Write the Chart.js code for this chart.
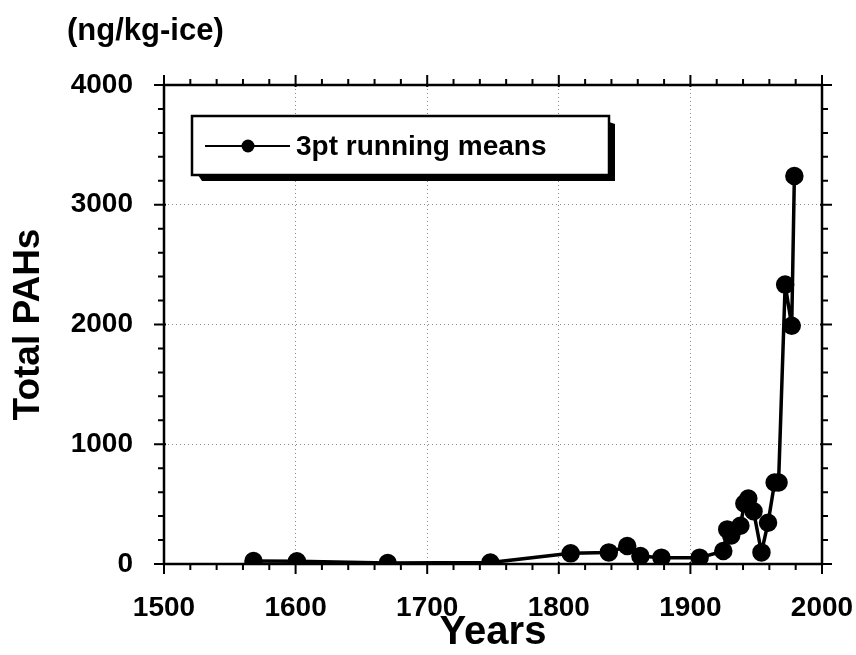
<!DOCTYPE html>
<html>
<head>
<meta charset="utf-8">
<script src="https://cdn.jsdelivr.net/npm/chart.js@4.4.1/dist/chart.umd.min.js"></script>
<style>
  html, body { margin: 0; padding: 0; background: #fff; }
  #wrap { width: 856px; height: 655px; position: relative; }
</style>
</head>
<body>
<div id="wrap"><canvas id="chartcontainer"></canvas></div>
<script>
// valeurs
var years = [1568, 1601, 1670, 1748, 1809, 1838, 1852, 1862, 1878, 1907, 1925, 1928,
             1931, 1938, 1941, 1944, 1948, 1954, 1959, 1964, 1967, 1972, 1977, 1979];
var pahs = [25, 22, 8, 12, 89, 97, 150, 67, 53, 53, 108, 289,
            239, 319, 505, 547, 441, 97, 344, 680, 680, 2333, 1990, 3240];
var xTicks = [1500, 1600, 1700, 1800, 1900, 2000];
var yTicks = [0, 1000, 2000, 3000, 4000];
var seriesLabel = "3pt running means";
var unitLabel = "(ng/kg-ice)";

var FONT = "'Liberation Sans', Arial, Helvetica, sans-serif";

var points = [];
for (var i = 0; i < years.length; i++) {
    points.push({x: years[i], y: pahs[i]});
}

// cadre + graduations (majeures et mineures) sur les 4 cotes
var frameTicks = {
    id: 'frameTicks',
    beforeDatasetsDraw: function(chart) {
        var ctx = chart.ctx, a = chart.chartArea;
        var xs = chart.scales.x, ys = chart.scales.y;
        ctx.save();
        ctx.strokeStyle = '#000';
        ctx.lineWidth = 2.5;
        ctx.strokeRect(a.left, a.top, a.right - a.left, a.bottom - a.top);
        ctx.lineWidth = 2;
        ctx.beginPath();
        for (var v = 1500; v <= 2000; v += 20) {
            var px = xs.getPixelForValue(v);
            var major = (v % 100 === 0);
            var L = major ? 10 : 6;
            ctx.moveTo(px, a.bottom - (major ? 2 : 0)); ctx.lineTo(px, a.bottom + L);
            ctx.moveTo(px, a.top + (major ? 2 : 0)); ctx.lineTo(px, a.top - L);
        }
        for (var w = 0; w <= 4000; w += 200) {
            var py = ys.getPixelForValue(w);
            var maj = (w % 1000 === 0);
            var L2 = maj ? 10 : 6;
            ctx.moveTo(a.left + (maj ? 2 : 0), py); ctx.lineTo(a.left - L2, py);
            ctx.moveTo(a.right - (maj ? 2 : 0), py); ctx.lineTo(a.right + L2, py);
        }
        ctx.stroke();
        ctx.restore();
    },
    afterDraw: function(chart) {
        var ctx = chart.ctx;
        ctx.save();
        // unite en haut a gauche
        ctx.fillStyle = '#000';
        ctx.font = 'bold 31px ' + FONT;
        ctx.textBaseline = 'alphabetic';
        ctx.textAlign = 'left';
        ctx.fillText(unitLabel, 67, 40);

        // legende encadree avec ombre
        var bx = 192, by = 116, bw = 417, bh = 59, sh = 6;
        ctx.fillStyle = '#000';
        ctx.beginPath();
        ctx.moveTo(bx + sh, by + bh);
        ctx.lineTo(bx + bw, by + bh);
        ctx.lineTo(bx + bw, by + sh);
        ctx.lineTo(bx + bw + sh, by + sh + 2);
        ctx.lineTo(bx + bw + sh, by + bh + sh);
        ctx.lineTo(bx + sh + 4, by + bh + sh);
        ctx.closePath();
        ctx.fill();
        ctx.fillStyle = '#fff';
        ctx.fillRect(bx, by, bw, bh);
        ctx.strokeStyle = '#000';
        ctx.lineWidth = 2.5;
        ctx.strokeRect(bx, by, bw, bh);

        var ds = chart.data.datasets[0];
        var ly = by + 30;
        ctx.lineWidth = 2;
        ctx.strokeStyle = ds.borderColor;
        ctx.beginPath();
        ctx.moveTo(bx + 13, ly);
        ctx.lineTo(bx + 98, ly);
        ctx.stroke();
        ctx.fillStyle = ds.pointBackgroundColor;
        ctx.beginPath();
        ctx.arc(bx + 56, ly, 6.5, 0, Math.PI * 2);
        ctx.fill();
        ctx.fillStyle = '#000';
        ctx.font = 'bold 28px ' + FONT;
        ctx.textBaseline = 'middle';
        ctx.fillText(ds.label, bx + 104, ly + 1);
        ctx.restore();
    }
};

var ctx = document.getElementById("chartcontainer").getContext('2d');
var chart = new Chart(ctx, {
    type: 'line',
    data: {
        datasets: [{
            label: seriesLabel,
            data: points,
            borderColor: '#000',
            backgroundColor: '#000',
            pointBackgroundColor: '#000',
            pointBorderColor: '#000',
            borderWidth: 3.5,
            pointRadius: 7.5,
            pointHoverRadius: 7.5,
            tension: 0,
            fill: false
        }]
    },
    options: {
        responsive: true,
        maintainAspectRatio: false,
        animation: false,
        layout: {
            padding: {left: 0, top: 85, right: 34, bottom: 0}
        },
        plugins: {
            legend: {display: false},
            tooltip: {enabled: false}
        },
        scales: {
            x: {
                type: 'linear',
                min: 1500,
                max: 2000,
                afterBuildTicks: function(scale) {
                    scale.ticks = xTicks.map(function(v) { return {value: v}; });
                },
                afterFit: function(scale) {
                    scale.height = 91;
                    scale.paddingLeft = 0;
                    scale.paddingRight = 0;
                },
                ticks: {
                    color: '#000',
                    font: {family: FONT, size: 28, weight: 'bold'},
                    padding: 27,
                    maxRotation: 0,
                    callback: function(v) { return String(v); }
                },
                grid: {
                    drawTicks: false,
                    lineWidth: 1,
                    color: function(c) {
                        var v = c.tick ? c.tick.value : 0;
                        return (v > 1500 && v < 2000) ? '#8a8a8a' : 'rgba(0,0,0,0)';
                    }
                },
                border: {display: false, dash: [1, 3]},
                title: {
                    display: true,
                    text: 'Years',
                    color: '#000',
                    font: {family: FONT, size: 40, weight: 'bold', lineHeight: 1.1},
                    padding: {top: 0, bottom: 0}
                }
            },
            y: {
                min: 0,
                max: 4000,
                afterBuildTicks: function(scale) {
                    scale.ticks = yTicks.map(function(v) { return {value: v}; });
                },
                afterFit: function(scale) {
                    scale.width = 164;
                    scale.paddingTop = 0;
                    scale.paddingBottom = 0;
                },
                ticks: {
                    color: '#000',
                    font: {family: FONT, size: 28, weight: 'bold'},
                    padding: 31,
                    callback: function(v) { return String(v); }
                },
                grid: {
                    drawTicks: false,
                    lineWidth: 1,
                    color: function(c) {
                        var v = c.tick ? c.tick.value : 0;
                        return (v > 0 && v < 4000) ? '#8a8a8a' : 'rgba(0,0,0,0)';
                    }
                },
                border: {display: false, dash: [1, 3]},
                title: {
                    display: true,
                    text: 'Total PAHs',
                    color: '#000',
                    font: {family: FONT, size: 37, weight: 'bold'},
                    padding: {top: 7, bottom: 0}
                }
            }
        }
    },
    plugins: [frameTicks]
});
</script>
</body>
</html>
